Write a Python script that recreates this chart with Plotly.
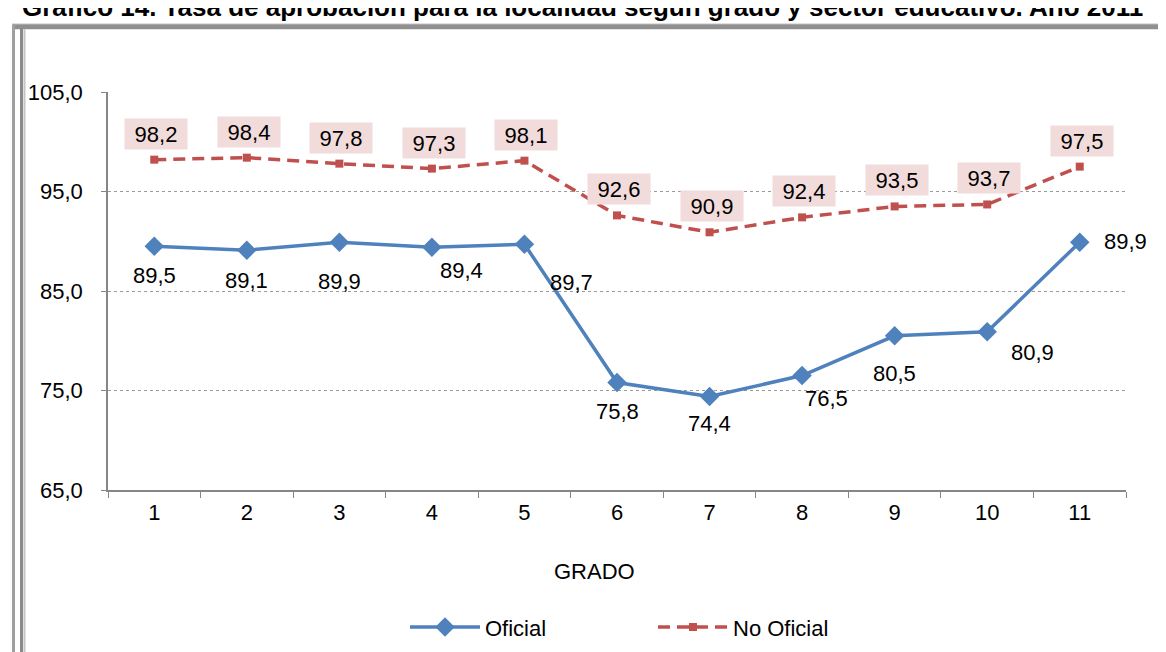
import plotly.graph_objects as go

grados = ["1", "2", "3", "4", "5", "6", "7", "8", "9", "10", "11"]
oficial = [89.5, 89.1, 89.9, 89.4, 89.7, 75.8, 74.4, 76.5, 80.5, 80.9, 89.9]
no_oficial = [98.2, 98.4, 97.8, 97.3, 98.1, 92.6, 90.9, 92.4, 93.5, 93.7, 97.5]
y_ticks = [65, 75, 85, 95, 105]

title_text = "Gráfico 14. Tasa de aprobación para la localidad según grado y sector educativo. Año 2011"

# label offsets in pixels (dx, dy downwards)
of_off = [(0, 29), (0, 30), (0, 39), (30, 23), (47, 38), (0, 29), (0, 27),
          (24, 23), (0, 38), (45, 21), (46, -1)]

BLUE = "#4f81bd"
RED = "#c0504d"
FONT = "Liberation Sans, Arial, sans-serif"
FS = 22

W, H = 1166, 652
L, R, T, B = 100, 48, 84, 162
PW, PH = W - L - R, H - T - B


def px(x):
    return (x - L) / PW


def py(y):
    return (H - B - y) / PH


fig = go.Figure()
fig.add_trace(go.Scatter(
    x=grados, y=oficial, name="Oficial", mode="lines+markers",
    line=dict(color=BLUE, width=3.5),
    marker=dict(symbol="diamond", size=15, color=BLUE),
))
fig.add_trace(go.Scatter(
    x=grados, y=no_oficial, name="No Oficial", mode="lines+markers",
    line=dict(color=RED, width=3.5, dash="12px,7px"),
    marker=dict(symbol="square", size=8, color=RED),
))

ann = []
for i, (v, (dx, dy)) in enumerate(zip(oficial, of_off)):
    ann.append(dict(x=i, y=v, xref="x", yref="y", text=f"{v:.1f}".replace(".", ","),
                    showarrow=False, xshift=dx, yshift=-dy,
                    font=dict(size=FS, color="black", family=FONT)))
for i, v in enumerate(no_oficial):
    ann.append(dict(x=i, y=v, xref="x", yref="y", text=f"{v:.1f}".replace(".", ","),
                    showarrow=False, xshift=2, yshift=26,
                    bgcolor="#f2dcdb", width=54, height=22, borderpad=4,
                    font=dict(size=FS, color="black", family=FONT)))
ann.append(dict(x=px(586), y=py(573), xref="paper", yref="paper", text="GRADO",
                showarrow=False, xanchor="center", yanchor="middle",
                font=dict(size=FS, color="black", family=FONT)))
ann.append(dict(x=px(12), y=py(15), xref="paper", yref="paper", text="<b>" + title_text + "</b>",
                showarrow=False, xanchor="left", yanchor="bottom",
                font=dict(size=26, color="black", family=FONT)))

shapes = [
    dict(type="line", xref="paper", yref="paper", x0=px(4), x1=px(1166), y0=py(14.5), y1=py(14.5),
         line=dict(color="#d0d0d0", width=1)),
    dict(type="line", xref="paper", yref="paper", x0=px(5), x1=px(1166), y0=py(17.5), y1=py(17.5),
         line=dict(color="#8f8f8f", width=5)),
    dict(type="line", xref="paper", yref="paper", x0=px(5.5), x1=px(5.5), y0=py(15), y1=py(660),
         line=dict(color="#a0a0a0", width=3)),
    dict(type="line", xref="paper", yref="paper", x0=px(13.5), x1=px(13.5), y0=py(19), y1=py(660),
         line=dict(color="#8a8a8a", width=3)),
    dict(type="line", xref="paper", yref="paper", x0=px(16.5), x1=px(16.5), y0=py(20), y1=py(660),
         line=dict(color="#c4c4c4", width=2)),
    dict(type="line", xref="paper", yref="paper", x0=px(1164), x1=px(1164), y0=py(20), y1=py(660),
         line=dict(color="#dadada", width=1)),
]

fig.update_layout(
    width=W, height=H,
    margin=dict(l=L, r=R, t=T, b=B),
    paper_bgcolor="white", plot_bgcolor="white",
    separators=",.",
    font=dict(family=FONT, size=FS, color="black"),
    showlegend=True,
    legend=dict(orientation="h", x=px(645), xanchor="center", y=py(630), yanchor="middle",
                font=dict(size=FS, color="black", family=FONT), itemwidth=70,
                entrywidth=163),
    annotations=ann,
    shapes=shapes,
    xaxis=dict(type="category", range=[-0.5, 10.5], tickson="boundaries", ticks="outside",
               ticklen=6, tickcolor="#868686", showline=True, linecolor="#868686",
               linewidth=1.5, showgrid=False, tickfont=dict(size=FS), ticklabelstandoff=2),
    yaxis=dict(range=[65, 105], tickvals=y_ticks, tickformat=".1f", ticks="outside",
               ticklen=5, tickcolor="#868686", showline=True, linecolor="#868686", linewidth=1.5,
               showgrid=True, gridcolor="#9a9a9a", griddash="dot", gridwidth=1,
               zeroline=False, tickfont=dict(size=FS), ticklabelstandoff=14),
)

fig.write_html("out.html")
